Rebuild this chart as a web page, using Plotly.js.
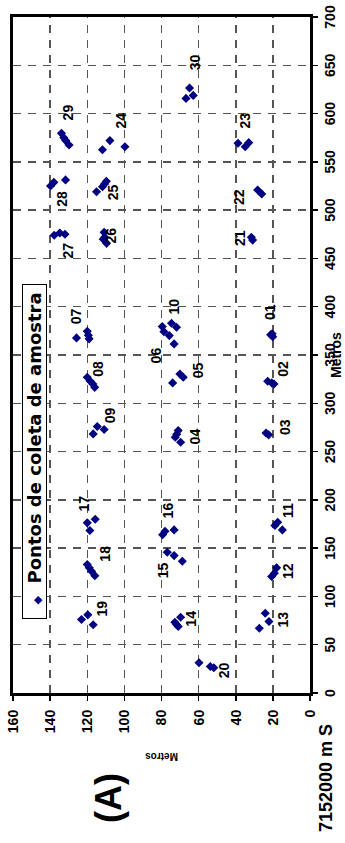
<!DOCTYPE html>
<html>
<head>
<meta charset="utf-8">
<script src="https://cdn.plot.ly/plotly-3.0.1.min.js"></script>
<style>
html,body{margin:0;padding:0;overflow:hidden;background:#fff;width:345px;height:843px;}
#wrap{position:absolute;left:0;top:843px;width:843px;height:345px;transform-origin:0 0;transform:rotate(-90deg);}
#chart{width:843px;height:345px;}
</style>
</head>
<body>
<div id="wrap"><div id="chart"></div></div>
<script>
// Sample points: distance along x (Metros) and y (Metros)
var pointX = [
  615.7, 626.5, 618.8,
  579.5, 575.0, 572.0, 567.5,
  562.6, 572.0, 565.7,
  569.2, 565.7, 569.9,
  525.0, 528.8, 531.3,
  519.1, 524.3, 527.0, 529.8,
  520.9, 516.8,
  474.0, 476.4, 475.0,
  477.0, 469.8, 465.6, 472.0,
  472.0, 469.0,
  367.7, 374.5, 366.7, 370.5,
  379.4, 374.2, 370.1, 382.8, 378.7, 361.5,
  371.0, 369.0, 372.0,
  327.0, 323.0, 320.0, 316.5,
  321.1, 330.4, 326.9,
  322.8, 321.1, 320.0,
  268.3, 275.9, 272.8,
  264.8, 271.7, 259.6, 268.0,
  269.3, 267.3,
  176.2, 168.2, 179.9,
  163.8, 167.5, 168.9,
  173.4, 176.8, 168.9,
  145.8, 142.3, 136.4,
  133.0, 129.6, 126.1, 121.5,
  120.6, 124.0, 129.6,
  76.1, 80.9, 70.6,
  73.3, 68.8, 78.5, 71.0,
  67.1, 82.6, 74.0,
  31.3, 27.4, 26.1
];
var pointY = [
  66.8, 64.9, 62.9,
  133.9, 132.6, 131.6, 129.8,
  111.8, 107.8, 99.7,
  38.8, 34.9, 33.0,
  139.8, 138.0, 131.7,
  115.0, 111.8, 110.7, 109.7,
  28.2, 26.0,
  137.8, 134.8, 132.0,
  110.9, 111.4, 109.6, 110.6,
  31.6, 30.9,
  125.8, 120.0, 119.0, 119.4,
  79.6, 78.7, 75.8, 74.6, 71.9, 73.2,
  21.2, 20.1, 20.4,
  120.0, 118.5, 117.0, 116.0,
  74.0, 70.1, 68.3,
  22.8, 20.6, 19.4,
  116.8, 114.6, 110.9,
  72.6, 71.0, 69.7, 71.8,
  23.7, 22.3,
  120.0, 118.6, 115.7,
  79.4, 78.1, 73.2,
  18.9, 17.4, 14.9,
  76.9, 73.2, 68.8,
  120.0, 118.9, 117.7, 115.9,
  20.7, 19.2, 18.0,
  123.1, 119.7, 116.8,
  72.8, 71.0, 69.7, 71.9,
  27.3, 24.1, 22.1,
  59.8, 53.7, 51.8
];
// Sample point labels
var labelText = ["30","29","24","23","28","25","22","27","26","21","07","06","10","01","08","05","02","09","04","03","17","16","11","15","18","12","19","14","13","20"];
var labelX = [653, 601, 592.6, 592.6, 511.6, 518.4, 513.3, 458, 473.6, 471, 390, 349.4, 400, 394.2, 335.6, 333.9, 335.6, 287.3, 265.5, 275.2, 195.9, 188.9, 188.9, 126.8, 144.1, 126.1, 87.2, 76.8, 75.8, 23.3];
var labelY = [61, 129.4, 101, 34.1, 133, 105.1, 37.2, 129.4, 106.4, 36.8, 125, 81.9, 72.4, 20.7, 113.2, 59.8, 14, 106.9, 61.4, 12.6, 120.8, 75.5, 10.8, 78.2, 109.6, 10.8, 111.4, 63.2, 14, 45.3];
var xTickVals = [0,50,100,150,200,250,300,350,400,450,500,550,600,650,700];
var yTickVals = [0,20,40,60,80,100,120,140,160];
var seriesName = 'Pontos de coleta de amostra';
var markerColor = '#000080';

var FONT = 'Liberation Sans, Arial, sans-serif';
var traces = [
  {
    type: 'scatter', mode: 'markers', name: seriesName, showlegend: false,
    x: pointX, y: pointY,
    marker: {symbol: 'diamond', size: 7, color: markerColor, line: {width: 0}},
    hoverinfo: 'none', cliponaxis: false
  },
  {
    type: 'scatter', mode: 'text', showlegend: false,
    x: labelX, y: labelY, text: labelText,
    textposition: 'middle center',
    textfont: {family: FONT, size: 14, color: '#000', weight: 'bold'},
    hoverinfo: 'none', cliponaxis: false
  }
];
var axisCommon = {
  showline: true, linewidth: 3, linecolor: '#000', mirror: true,
  ticks: 'outside', ticklen: 5, tickwidth: 1.5, tickcolor: '#000',
  showgrid: true, gridcolor: '#555', gridwidth: 1.5, griddash: '8px,7px',
  zeroline: false,
  tickfont: {family: FONT, size: 14, color: '#000', weight: 'bold'}
};
var layout = {
  width: 843, height: 345,
  margin: {l: 150, r: 17, t: 13, b: 35, pad: 0},
  paper_bgcolor: '#fff', plot_bgcolor: '#fff',
  showlegend: false,
  xaxis: Object.assign({}, axisCommon, {
    range: [0, 700], tickvals: xTickVals
  }),
  yaxis: Object.assign({}, axisCommon, {
    range: [0, 160], tickvals: yTickVals, ticklabelstandoff: 6,
    title: {text: 'Metros', font: {family: FONT, size: 10, color: '#000', weight: 'bold'}, standoff: 18}
  }),
  annotations: [
    // x axis title
    {xref: 'paper', yref: 'paper', x: 0.5, y: -0.0892, xanchor: 'center', yanchor: 'middle',
     text: 'Metros', showarrow: false,
     font: {family: FONT, size: 14, color: '#000', weight: 'bold'}},
    // legend box
    {xref: 'paper', yref: 'paper', x: 0.357, y: 0.926, xanchor: 'center', yanchor: 'middle',
     text: '&nbsp;&nbsp;<span style="font-size:11px;color:' + markerColor + '">◆</span>&nbsp;&nbsp;' + seriesName + '&nbsp;',
     showarrow: false, bgcolor: '#fff', bordercolor: '#000', borderwidth: 1, borderpad: 1,
     font: {family: 'DejaVu Sans, sans-serif', size: 18, color: '#000', weight: 'bold'}},
    {xref: 'paper', yref: 'paper', x: -0.156, y: 0.68, xanchor: 'center', yanchor: 'middle',
     text: '(A)', showarrow: false,
     font: {family: FONT, size: 36, color: '#000', weight: 'bold'}},
    {xref: 'paper', yref: 'paper', x: -0.126, y: -0.054, xanchor: 'center', yanchor: 'middle',
     text: '7152000 m S', showarrow: false,
     font: {family: FONT, size: 18, color: '#000', weight: 'bold'}}
  ]
};
Plotly.newPlot('chart', traces, layout, {staticPlot: true, displayModeBar: false, responsive: false});
</script>
</body>
</html>
